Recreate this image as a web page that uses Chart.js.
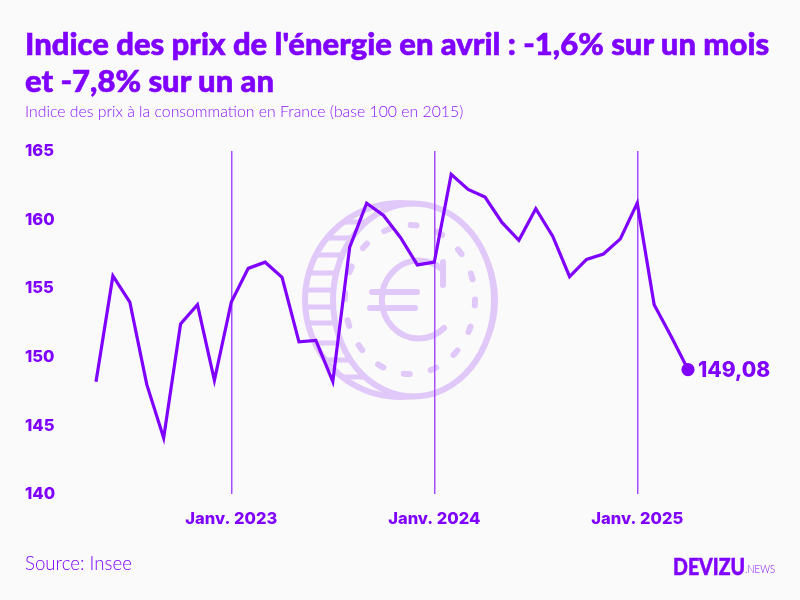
<!DOCTYPE html>
<html lang="fr">
<head>
<meta charset="utf-8">
<title>Indice des prix de l'énergie</title>
<script src="https://cdn.jsdelivr.net/npm/chart.js@4"></script>
<style>
  html, body { margin: 0; padding: 0; background: #fafafa; }
  #page { position: relative; width: 800px; height: 600px; overflow: hidden; font-family: Lato, sans-serif; color: #7f00ff; }
  #page div { position: absolute; white-space: nowrap; }
  #coin, #chartBox { position: absolute; left: 0; top: 0; }
  #title { left: 25px; top: 25px; font-size: 31px; font-weight: 900; line-height: 37px; -webkit-text-stroke: 0.6px #7f00ff; }
  #subtitle { left: 25px; top: 102px; font-size: 15.8px; line-height: 18px; font-weight: 300; color: #8a14ff; }
  #source { left: 25px; top: 552px; font-size: 18.7px; line-height: 22px; font-weight: 300; }
  #logo { left: 673px; top: 554px; font-size: 23px; line-height: 24px; font-weight: 900; transform: scaleX(0.85); transform-origin: left; -webkit-text-stroke: 0.5px #7f00ff; }
  #logoNews { left: 745px; top: 563px; font-size: 11px; line-height: 12px; font-weight: 300; transform: scaleX(0.88); transform-origin: left; }
</style>
</head>
<body>
<div id="page">
  <!-- pièce en euro derrière la courbe -->
  <svg id="coin" width="800" height="600" fill="none" stroke="#e0c8f9" stroke-width="6">
    <defs><clipPath id="coinBack"><ellipse cx="400" cy="300" rx="95" ry="97"/></clipPath></defs>
    <ellipse cx="400" cy="300" rx="95" ry="97"/>
    <g clip-path="url(#coinBack)" stroke-width="5">
      <path d="M300 222H400M300 238H400M300 255H400M300 273H400M300 290H400M300 307H400M300 323H400M300 343H400M300 360H400M300 377H400"/>
    </g>
    <ellipse cx="413.5" cy="300" rx="80.5" ry="96.5" fill="#fafafa"/>
    <ellipse cx="410" cy="299.5" rx="65" ry="74.5" stroke-dasharray="6 21.44" stroke-linecap="round"/>
    <path d="M443 285V262M443 270A37 39 0 1 0 444 328M372 292H417M370 308H415" stroke-linecap="round"/>
  </svg>
  <div id="chartBox"><canvas id="energyChart" width="800" height="600"></canvas></div>
  <div id="title">Indice des prix de l'énergie en avril : -1,6% sur un mois<br>et -7,8% sur un an</div>
  <div id="subtitle">Indice des prix à la consommation en France (base 100 en 2015)</div>
  <div id="source">Source: Insee</div>
  <div id="logo">DEVIZU</div>
  <div id="logoNews">.NEWS</div>
</div>
<script>
// mois de mai 2022 à avril 2025
const months = [
  'Mai 2022', 'Juin 2022', 'Juil. 2022', 'Août 2022', 'Sept. 2022', 'Oct. 2022', 'Nov. 2022', 'Déc. 2022',
  'Janv. 2023', 'Févr. 2023', 'Mars 2023', 'Avr. 2023', 'Mai 2023', 'Juin 2023', 'Juil. 2023', 'Août 2023',
  'Sept. 2023', 'Oct. 2023', 'Nov. 2023', 'Déc. 2023', 'Janv. 2024', 'Févr. 2024', 'Mars 2024', 'Avr. 2024',
  'Mai 2024', 'Juin 2024', 'Juil. 2024', 'Août 2024', 'Sept. 2024', 'Oct. 2024', 'Nov. 2024', 'Déc. 2024',
  'Janv. 2025', 'Févr. 2025', 'Mars 2025', 'Avr. 2025'
];
// indice
const energyIndex = [
  148.2, 155.9, 154.0, 148.0, 144.1, 152.4, 153.8, 148.3,
  154.0, 156.45, 156.9, 155.8, 151.1, 151.2, 148.2, 158.0,
  161.2, 160.3, 158.7, 156.7, 156.9, 163.3, 162.2, 161.65,
  159.8, 158.5, 160.8, 158.8, 155.85, 157.1, 157.5, 158.6,
  161.2, 153.8, 151.5, 149.08
];
const xTickLabels = ['Janv. 2023', 'Janv. 2024', 'Janv. 2025'];
const lastLabel = '149,08';

const purple = '#7f00ff';
const tickFont = { family: 'Inter', size: 16.5, weight: '800' };

// étiquette de la dernière valeur
const lastValuePlugin = {
  id: 'lastValue',
  afterDatasetsDraw(chart) {
    const pts = chart.getDatasetMeta(0).data;
    const p = pts[pts.length - 1];
    const c = chart.ctx;
    c.save();
    c.fillStyle = purple;
    c.font = '800 21px Inter';
    c.textBaseline = 'middle';
    c.fillText(lastLabel, p.x + 10, p.y + 1);
    c.restore();
  }
};

new Chart(document.getElementById('energyChart'), {
  type: 'line',
  data: {
    labels: months,
    datasets: [{
      data: energyIndex,
      borderColor: purple,
      backgroundColor: purple,
      borderWidth: 3.2,
      tension: 0,
      pointRadius: ctx => ctx.dataIndex === months.length - 1 ? 5 : 0,
      pointHoverRadius: 5
    }]
  },
  options: {
    responsive: false,
    animation: false,
    layout: { padding: { left: 25, right: 112, top: 151, bottom: 56 } },
    plugins: { legend: { display: false }, title: { display: false }, tooltip: { enabled: false } },
    scales: {
      x: {
        offset: false,
        border: { display: false },
        grid: {
          drawTicks: false,
          lineWidth: 1.5,
          color: ctx => ctx.tick && xTickLabels.includes(months[ctx.tick.value]) ? '#a64dff' : 'transparent'
        },
        ticks: {
          autoSkip: false,
          maxRotation: 0,
          padding: 15,
          color: purple,
          font: tickFont,
          callback: function (value) {
            const name = months[value];
            return xTickLabels.includes(name) ? name : '';
          }
        }
      },
      y: {
        min: 140,
        max: 165,
        border: { display: false },
        grid: { display: false },
        afterFit(axis) { axis.width = 71; },
        ticks: {
          stepSize: 5,
          crossAlign: 'far',
          padding: 0,
          color: purple,
          font: tickFont
        }
      }
    }
  },
  plugins: [lastValuePlugin]
});
</script>
</body>
</html>
